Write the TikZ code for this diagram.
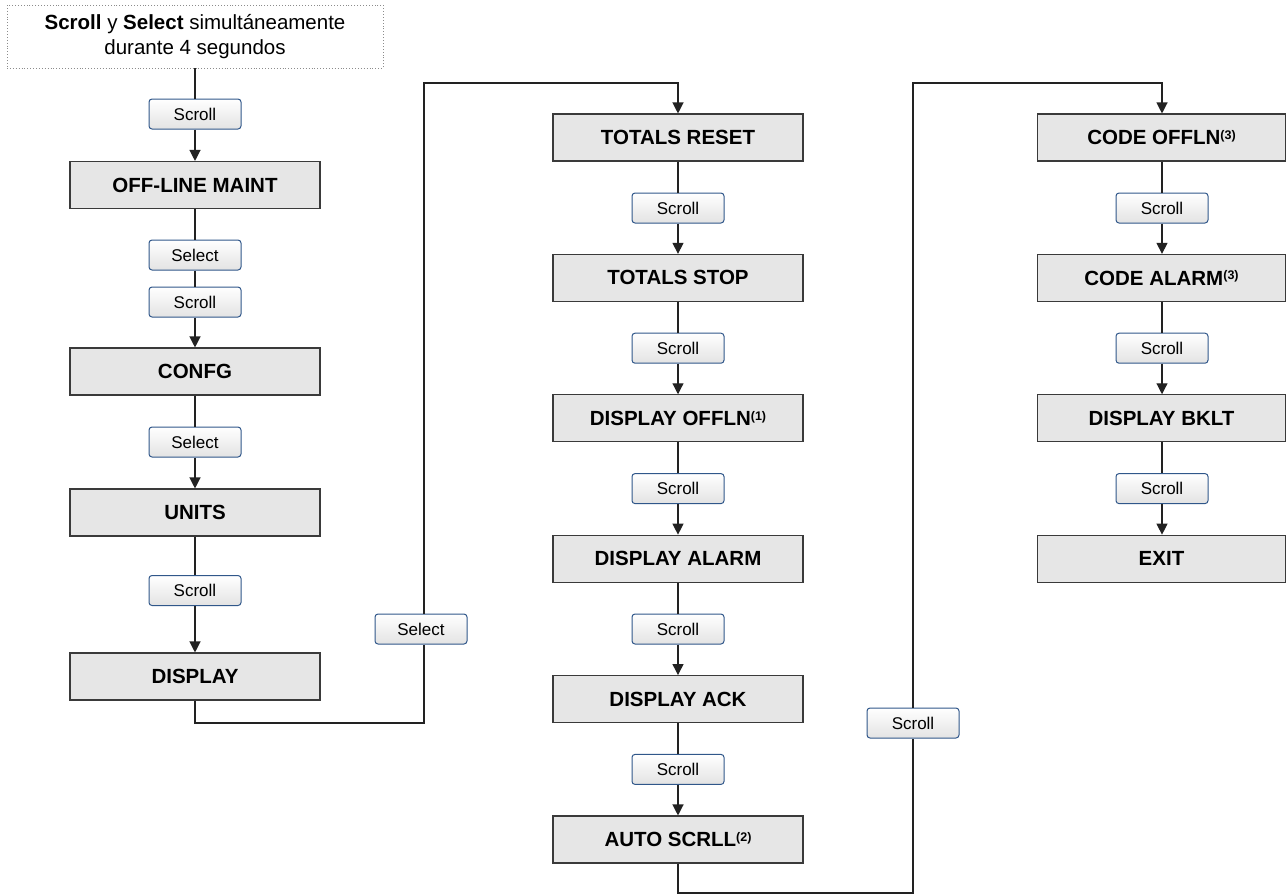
\documentclass[tikz,border=0pt]{standalone}
\usepackage{fontspec}
\setmainfont{Liberation Sans}
\usetikzlibrary{arrows.meta}

\definecolor{boxfill}{HTML}{E6E6E6}
\definecolor{boxline}{HTML}{3A3A3A}
\definecolor{btnline}{HTML}{30578A}
\definecolor{wire}{HTML}{222222}

\newcommand{\sstep}[1]{#1\textsuperscript{\fontsize{12}{12}\selectfont\bfseries}}
\newcommand{\fn}[1]{\raisebox{0.5ex}{\fontsize{12.5}{13}\selectfont\bfseries(#1)}}

\tikzset{
  menubox/.style={draw=boxline, fill=boxfill, line width=1.1pt,
    minimum width=250pt, minimum height=47pt, inner sep=0pt,
    font=\fontsize{20.5}{24}\selectfont\bfseries},
  keybtn/.style={draw=btnline, line width=1pt, rounded corners=3pt,
    top color=white, bottom color=black!11,
    minimum width=92pt, minimum height=30pt, inner sep=0pt,
    font=\fontsize{17}{20}\selectfont},
  startbox/.style={draw=black!45, dotted, line width=0.9pt,
    minimum width=376pt, minimum height=63pt, inner sep=0pt, align=center,
    font=\fontsize{20.5}{25}\selectfont},
  wireline/.style={draw=wire, line width=1.2pt},
  arrowline/.style={wireline, -{Triangle[width=11pt,length=11pt]}}
}

\begin{document}
\begin{tikzpicture}[x=1pt,y=-1pt]
\useasboundingbox (0,0) rectangle (1286,895);

% first column
\node[startbox] (start) at (195,36.5)
  {\textbf{Scroll} y \textbf{Select} simultáneamente\\durante 4 segundos};
\node[keybtn] (k0) at (195,114) {Scroll};
\node[menubox] (offline) at (195,185) {OFF-LINE MAINT};
\node[keybtn] (k1) at (195,255) {Select};
\node[keybtn] (k2) at (195,302) {Scroll};
\node[menubox] (confg) at (195,371.5) {CONFG};
\node[keybtn] (k3) at (195,442) {Select};
\node[menubox] (units) at (195,512.5) {UNITS};
\node[keybtn] (k4) at (195,590.5) {Scroll};
\node[menubox] (display) at (195,676.5) {DISPLAY};

% second column
\node[menubox] (treset) at (678,137.5) {TOTALS RESET};
\node[keybtn] (m1) at (678,208) {Scroll};
\node[menubox] (tstop) at (678,277.9) {TOTALS STOP};
\node[keybtn] (m2) at (678,348.2) {Scroll};
\node[menubox] (doffln) at (678,418.3) {DISPLAY OFFLN\fn{1}};
\node[keybtn] (m3) at (678,488.6) {Scroll};
\node[menubox] (dalarm) at (678,558.7) {DISPLAY ALARM};
\node[keybtn] (m4) at (678,629) {Scroll};
\node[menubox] (dack) at (678,699.1) {DISPLAY ACK};
\node[keybtn] (m5) at (678,769.4) {Scroll};
\node[menubox] (ascrll) at (678,839.5) {AUTO SCRLL\fn{2}};

% third column
\node[menubox, minimum width=248pt] (coffln) at (1161.5,137.5) {CODE OFFLN\fn{3}};
\node[keybtn] (r1) at (1162,208) {Scroll};
\node[menubox, minimum width=248pt] (calarm) at (1161.5,277.9) {CODE ALARM\fn{3}};
\node[keybtn] (r2) at (1162,348.2) {Scroll};
\node[menubox, minimum width=248pt] (dbklt) at (1161.5,418.3) {DISPLAY BKLT};
\node[keybtn] (r3) at (1162,488.6) {Scroll};
\node[menubox, minimum width=248pt] (exit) at (1161.5,558.7) {EXIT};

% keys on the transfer lines
\node[keybtn] (sel) at (421,629) {Select};
\node[keybtn] (scr) at (913,723) {Scroll};

% routing points
\coordinate (d1) at (195,723);
\coordinate (d2) at (424,723);
\coordinate (d3) at (424,83);
\coordinate (d4) at (678,83);
\coordinate (e1) at (678,893);
\coordinate (e2) at (913,893);
\coordinate (e3) at (913,83);
\coordinate (e4) at (1162,83);

% first column connectors
\draw[wireline] (start.south) -- (k0.north);
\draw[arrowline] (k0.south) -- (offline.north);
\draw[wireline] (offline.south) -- (k1.north);
\draw[wireline] (k1.south) -- (k2.north);
\draw[arrowline] (k2.south) -- (confg.north);
\draw[wireline] (confg.south) -- (k3.north);
\draw[arrowline] (k3.south) -- (units.north);
\draw[wireline] (units.south) -- (k4.north);
\draw[arrowline] (k4.south) -- (display.north);

% transfer to second column
\draw[wireline] (display.south) -- (d1) -- (d2) -- (d2 |- sel.south);
\draw[arrowline] (d3 |- sel.north) -- (d3) -- (d4) -- (treset.north);

% second column connectors
\draw[wireline] (treset.south) -- (m1.north);
\draw[arrowline] (m1.south) -- (tstop.north);
\draw[wireline] (tstop.south) -- (m2.north);
\draw[arrowline] (m2.south) -- (doffln.north);
\draw[wireline] (doffln.south) -- (m3.north);
\draw[arrowline] (m3.south) -- (dalarm.north);
\draw[wireline] (dalarm.south) -- (m4.north);
\draw[arrowline] (m4.south) -- (dack.north);
\draw[wireline] (dack.south) -- (m5.north);
\draw[arrowline] (m5.south) -- (ascrll.north);

% transfer to third column
\draw[wireline] (ascrll.south) -- (e1) -- (e2) -- (scr.south);
\draw[arrowline] (scr.north) -- (e3) -- (e4) -- (e4 |- coffln.north);

% third column connectors
\draw[wireline] (coffln.south -| r1) -- (r1.north);
\draw[arrowline] (r1.south) -- (r1 |- calarm.north);
\draw[wireline] (calarm.south -| r2) -- (r2.north);
\draw[arrowline] (r2.south) -- (r2 |- dbklt.north);
\draw[wireline] (dbklt.south -| r3) -- (r3.north);
\draw[arrowline] (r3.south) -- (r3 |- exit.north);
\end{tikzpicture}
\end{document}
